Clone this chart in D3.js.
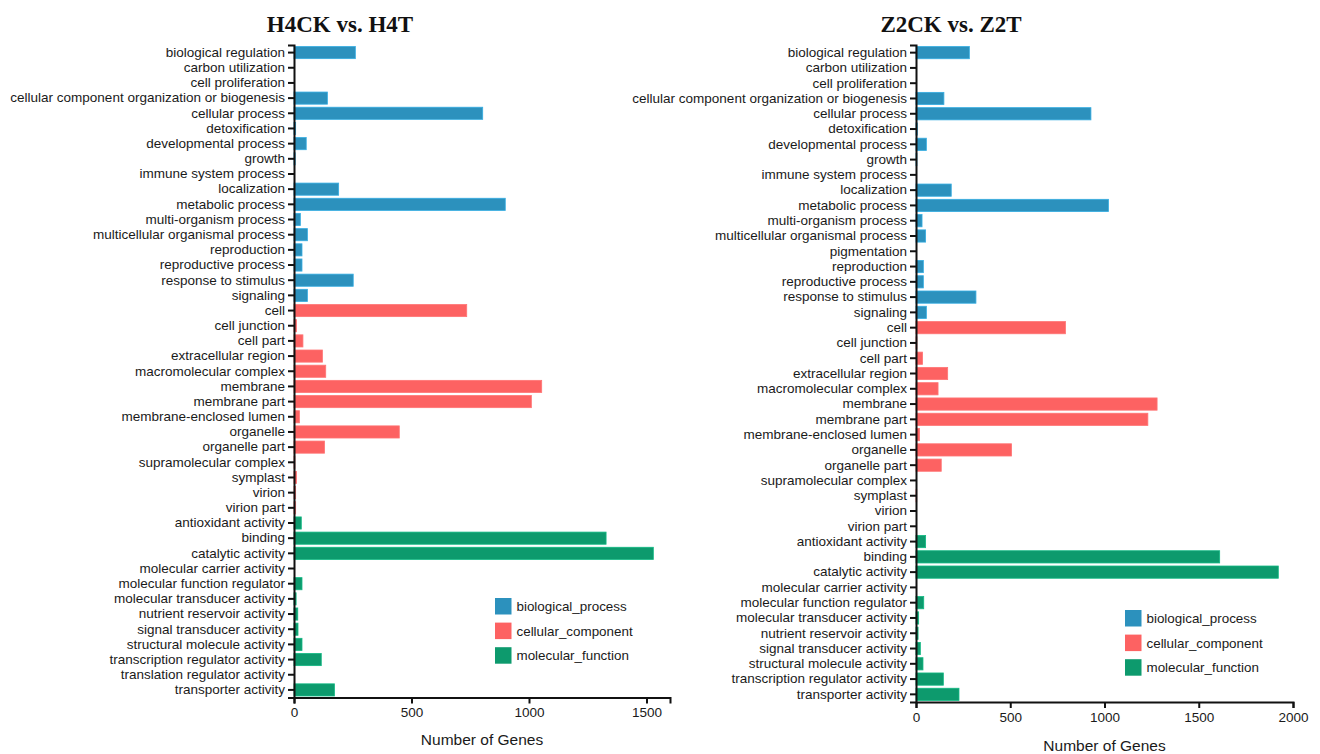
<!DOCTYPE html>
<html>
<head>
<meta charset="utf-8">
<script src="https://cdn.jsdelivr.net/npm/d3@7"></script>
<style>
  html, body { margin: 0; padding: 0; background: #fff; }
  svg { display: block; }
  .cat-label { font-family: "Liberation Sans", Arial, sans-serif; font-size: 13.5px; fill: #1a1a1a; }
  .tick-label { font-family: "Liberation Sans", Arial, sans-serif; font-size: 13.5px; fill: #1a1a1a; }
  .axis-title { font-family: "Liberation Sans", Arial, sans-serif; font-size: 15.5px; fill: #1a1a1a; }
  .panel-title { font-family: "Liberation Serif", "Times New Roman", serif; font-weight: bold; font-size: 23px; fill: #111; }
  .legend-label { font-family: "Liberation Sans", Arial, sans-serif; font-size: 13.4px; fill: #1a1a1a; }
</style>
</head>
<body>
<svg id="chart" width="1320" height="754"></svg>
<script>
// GO ontology groups and their fill colours
const ontologyNames = ["biological_process", "cellular_component", "molecular_function"];
const ontologyColors = ["#2c91bd", "#fd6262", "#0d9a6d"];

// ---- H4CK vs. H4T ----
const h4Categories = [
  "biological regulation", "carbon utilization", "cell proliferation",
  "cellular component organization or biogenesis", "cellular process", "detoxification",
  "developmental process", "growth", "immune system process", "localization",
  "metabolic process", "multi-organism process", "multicellular organismal process",
  "reproduction", "reproductive process", "response to stimulus", "signaling",
  "cell", "cell junction", "cell part", "extracellular region", "macromolecular complex",
  "membrane", "membrane part", "membrane-enclosed lumen", "organelle", "organelle part",
  "supramolecular complex", "symplast", "virion", "virion part",
  "antioxidant activity", "binding", "catalytic activity", "molecular carrier activity",
  "molecular function regulator", "molecular transducer activity", "nutrient reservoir activity",
  "signal transducer activity", "structural molecule activity", "transcription regulator activity",
  "translation regulator activity", "transporter activity"
];
const h4Ontology = [
  0,0,0,0,0,0,0,0,0,0,0,0,0,0,0,0,0,
  1,1,1,1,1,1,1,1,1,1,1,1,1,1,
  2,2,2,2,2,2,2,2,2,2,2,2
];
const h4Values = [
  261, 0, 0, 142, 803, 7, 52, 5, 0, 190, 899, 27, 57, 34, 34, 252, 57,
  735, 11, 38, 121, 135, 1054, 1010, 23, 448, 130, 4, 11, 7, 7,
  31, 1328, 1529, 0, 34, 9, 16, 17, 34, 116, 0, 172
];
const h4Ticks = [0, 500, 1000, 1500];

// ---- Z2CK vs. Z2T ----
const z2Categories = [
  "biological regulation", "carbon utilization", "cell proliferation",
  "cellular component organization or biogenesis", "cellular process", "detoxification",
  "developmental process", "growth", "immune system process", "localization",
  "metabolic process", "multi-organism process", "multicellular organismal process",
  "pigmentation", "reproduction", "reproductive process", "response to stimulus", "signaling",
  "cell", "cell junction", "cell part", "extracellular region", "macromolecular complex",
  "membrane", "membrane part", "membrane-enclosed lumen", "organelle", "organelle part",
  "supramolecular complex", "symplast", "virion", "virion part",
  "antioxidant activity", "binding", "catalytic activity", "molecular carrier activity",
  "molecular function regulator", "molecular transducer activity", "nutrient reservoir activity",
  "signal transducer activity", "structural molecule activity", "transcription regulator activity",
  "transporter activity"
];
const z2Ontology = [
  0,0,0,0,0,0,0,0,0,0,0,0,0,0,0,0,0,0,
  1,1,1,1,1,1,1,1,1,1,1,1,1,1,
  2,2,2,2,2,2,2,2,2,2,2
];
const z2Values = [
  283, 0, 0, 148, 928, 7, 55, 5, 0, 187, 1021, 32, 51, 0, 39, 39, 318, 55,
  793, 5, 35, 168, 117, 1279, 1230, 19, 507, 134, 0, 4, 0, 0,
  51, 1611, 1922, 0, 41, 14, 11, 23, 37, 145, 228
];
const z2Ticks = [0, 500, 1000, 1500, 2000];

const svg = d3.select("#chart");

function drawPanel(cfg) {
  const g = svg.append("g");
  const rows = cfg.categories.map((c, i) => ({ name: c, value: cfg.values[i], group: cfg.ontology[i] }));

  const x = d3.scaleLinear().domain([0, cfg.xMax]).range([cfg.left, cfg.right]);
  const y = d3.scaleBand().domain(cfg.categories).range([cfg.top, cfg.bottom]).paddingInner(0.2).paddingOuter(0.1);

  // bars
  g.append("g").selectAll("rect").data(rows).join("rect")
    .attr("x", x(0))
    .attr("y", d => y(d.name))
    .attr("width", d => x(d.value) - x(0))
    .attr("height", y.bandwidth())
    .attr("fill", d => ontologyColors[d.group])
    .attr("stroke", d => d3.color(ontologyColors[d.group]).brighter(0.5))
    .attr("stroke-width", 0.8);

  // y axis
  const yAxis = g.append("g")
    .attr("transform", `translate(${cfg.left},0)`)
    .call(d3.axisLeft(y).tickSize(6).tickSizeOuter(6).tickPadding(3));
  yAxis.select(".domain").attr("stroke", "#111").attr("stroke-width", 2);
  yAxis.selectAll(".tick line").attr("stroke", "#111").attr("stroke-width", 2);
  yAxis.selectAll(".tick text").attr("class", "cat-label").attr("font-size", null).attr("font-family", null);

  // x axis
  const xAxis = g.append("g")
    .attr("transform", `translate(0,${cfg.bottom})`)
    .call(d3.axisBottom(x).tickValues(cfg.ticks).tickFormat(d3.format("d")).tickSize(6).tickSizeOuter(6).tickPadding(4));
  xAxis.select(".domain").attr("stroke", "#111").attr("stroke-width", 2);
  xAxis.selectAll(".tick line").attr("stroke", "#111").attr("stroke-width", 2);
  xAxis.selectAll(".tick text").attr("class", "tick-label").attr("font-size", null).attr("font-family", null);

  // axis title
  g.append("text").attr("class", "axis-title")
    .attr("x", (cfg.left + cfg.right) / 2).attr("y", cfg.bottom + cfg.titleOffset)
    .attr("text-anchor", "middle").text("Number of Genes");

  // panel title
  g.append("text").attr("class", "panel-title")
    .attr("x", cfg.titleX).attr("y", 32)
    .attr("text-anchor", "middle").text(cfg.title);

  // legend
  const lg = g.append("g").attr("transform", `translate(${cfg.legendX},${cfg.legendY})`);
  ontologyNames.forEach((n, i) => {
    lg.append("rect").attr("x", 0).attr("y", i * 24.6).attr("width", 16.5).attr("height", 16.5)
      .attr("fill", ontologyColors[i]);
    lg.append("text").attr("class", "legend-label")
      .attr("x", 21.5).attr("y", i * 24.6 + 13).text(n);
  });
}

drawPanel({
  categories: h4Categories, values: h4Values, ontology: h4Ontology, ticks: h4Ticks,
  xMax: 1600, left: 294, right: 670, top: 45, bottom: 697.5,
  title: "H4CK vs. H4T", titleX: 340, titleOffset: 47,
  legendX: 495, legendY: 598
});

drawPanel({
  categories: z2Categories, values: z2Values, ontology: z2Ontology, ticks: z2Ticks,
  xMax: 2000, left: 916, right: 1293, top: 45, bottom: 702,
  title: "Z2CK vs. Z2T", titleX: 951, titleOffset: 49,
  legendX: 1125, legendY: 610
});
</script>
</body>
</html>
